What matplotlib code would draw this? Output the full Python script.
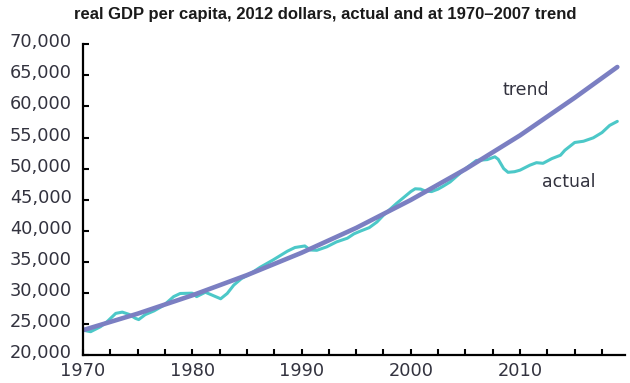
import matplotlib
matplotlib.use("Agg")
import matplotlib.pyplot as plt
from matplotlib.ticker import MultipleLocator, FuncFormatter
from matplotlib.transforms import ScaledTranslation

# actual real GDP per capita (2012 dollars)
actual_years = [1970.0, 1970.7, 1971.6, 1972.2, 1973.0, 1973.6, 1974.2, 1974.8, 1975.1, 1975.7,
                1976.5, 1977.4, 1978.3, 1978.9, 1980.0, 1980.4, 1981.2, 1981.8, 1982.6, 1983.2,
                1983.8, 1984.5, 1985.3, 1986.2, 1987.4, 1988.7, 1989.4, 1990.3, 1990.8, 1991.4,
                1992.3, 1993.2, 1994.2, 1994.8, 1995.4, 1996.2, 1996.9, 1997.5, 1998.7, 2000.0,
                2000.4, 2000.9, 2001.3, 2001.9, 2002.5, 2003.0, 2003.6, 2004.8, 2006.0, 2007.0,
                2007.7, 2008.0, 2008.5, 2008.9, 2009.5, 2010.0, 2010.9, 2011.5, 2012.1, 2012.9,
                2013.7, 2014.1, 2015.0, 2015.8, 2016.7, 2017.5, 2018.2, 2018.9]
actual_values = [24000, 23750, 24550, 25350, 26700, 26900, 26550, 25900, 25700, 26500,
                 27100, 28000, 29400, 29900, 29950, 29400, 30100, 29650, 29050, 29900,
                 31250, 32300, 33050, 34100, 35300, 36700, 37300, 37550, 36900, 36850,
                 37400, 38200, 38800, 39500, 39950, 40500, 41400, 42500, 44400, 46300,
                 46750, 46700, 46400, 46300, 46700, 47200, 47850, 49700, 51300, 51450,
                 51900, 51500, 50000, 49400, 49500, 49750, 50550, 50950, 50850, 51600,
                 52150, 52950, 54200, 54400, 54950, 55800, 56950, 57600]

# 1970-2007 trend
trend_years = [1970, 1975, 1980, 1985, 1990, 1995, 2000, 2005, 2010, 2015, 2018.9]
trend_values = [24000, 26650, 29600, 32850, 36450, 40450, 44950, 49900, 55350, 61400, 66350]

fig = plt.figure(figsize=(6.3, 3.83), dpi=100)
ax = fig.add_axes([0.1317, 0.0731, 0.8603, 0.8112])

ax.plot(actual_years, actual_values, color="#4cc8c8", linewidth=2.2, solid_capstyle="round")
ax.plot(trend_years, trend_values, color="#7b7fc2", linewidth=3.3, solid_capstyle="round")

ax.set_xlim(1970, 2019.6)
ax.set_ylim(20000, 70000)

ax.xaxis.set_major_locator(MultipleLocator(2.5))
ax.xaxis.set_major_formatter(FuncFormatter(lambda v, p: f"{v:.0f}" if abs(v % 10) < 1e-6 else ""))
ax.yaxis.set_major_locator(MultipleLocator(5000))
ax.yaxis.set_major_formatter(FuncFormatter(lambda v, p: f"{v:,.0f}"))

for s in ["top", "right"]:
    ax.spines[s].set_visible(False)
for s in ["left", "bottom"]:
    ax.spines[s].set_linewidth(1.6)
    ax.spines[s].set_color("black")

ax.tick_params(axis="both", direction="in", length=4, width=1.5, colors="black",
               labelcolor="#33333f", labelsize=12.8)
ax.tick_params(axis="y", pad=8)
ax.tick_params(axis="x", pad=5)

# y labels sit a little above their ticks
for lab in ax.get_yticklabels():
    lab.set_transform(lab.get_transform() + ScaledTranslation(0, 0.04, fig.dpi_scale_trans))

ax.text(2010.5, 62600, "trend", fontsize=12.5, color="#33333f", ha="center", va="center")
ax.text(2014.5, 47800, "actual", fontsize=12.5, color="#33333f", ha="center", va="center")

fig.text(0.516, 0.963, "real GDP per capita, 2012 dollars, actual and at 1970\u20132007 trend",
         family=["Liberation Sans", "DejaVu Sans"], fontweight="bold",
         fontsize=12, color="#1a1a1a", ha="center", va="center")

fig.savefig("out.png", dpi=100)
